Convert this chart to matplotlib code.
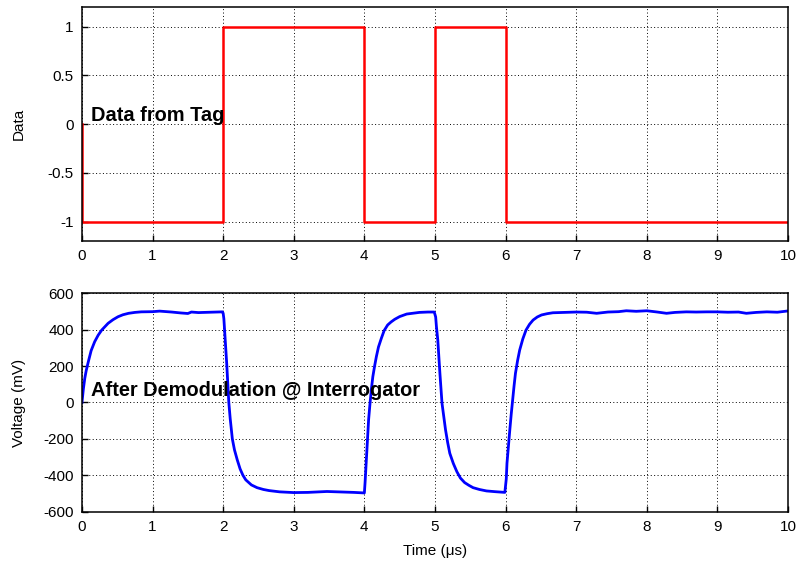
import matplotlib
matplotlib.use("Agg")
import matplotlib.pyplot as plt
from matplotlib.ticker import MultipleLocator

plt.rcParams["font.family"] = ["Liberation Sans", "DejaVu Sans"]
plt.rcParams["axes.unicode_minus"] = False

# tag bit stream: switching instants (us) and level after each instant
bit_t = [0, 0, 2, 2, 4, 4, 5, 5, 6, 6, 10]
bit_level = [0, -1, -1, 1, 1, -1, -1, 1, 1, -1, -1]

# demodulated voltage at the interrogator
time_us = [0.00, 0.02, 0.04, 0.06, 0.09, 0.13, 0.18, 0.23, 0.28, 0.37,
           0.44, 0.51, 0.58, 0.66, 0.75, 0.84, 1.00, 1.10, 1.27, 1.40,
           1.50, 1.55, 1.65, 1.80, 1.90, 1.99,
           2.00, 2.01, 2.02, 2.03, 2.05, 2.06, 2.08, 2.10, 2.13, 2.16,
           2.20, 2.24, 2.28, 2.32, 2.40, 2.48, 2.57, 2.65, 2.80, 3.00,
           3.20, 3.47, 3.70, 3.85, 4.00,
           4.01, 4.02, 4.045, 4.06, 4.08, 4.10, 4.12, 4.145, 4.17, 4.20,
           4.24, 4.28, 4.33, 4.38, 4.43, 4.50, 4.60, 4.68, 4.78, 4.90,
           4.99,
           5.01, 5.02, 5.04, 5.055, 5.07, 5.085, 5.10, 5.125, 5.15, 5.18,
           5.21, 5.26, 5.31, 5.36, 5.42, 5.48, 5.54, 5.63, 5.73, 5.85,
           5.99,
           6.01, 6.02, 6.04, 6.06, 6.08, 6.10, 6.12, 6.14, 6.17, 6.20,
           6.245, 6.29, 6.34, 6.39, 6.45, 6.51, 6.59, 6.67, 6.85,
           7.00, 7.15, 7.29, 7.45, 7.60, 7.71, 7.85, 8.00, 8.15, 8.28,
           8.40, 8.56, 8.70, 8.85, 8.99, 9.15, 9.30, 9.41, 9.55, 9.70,
           9.85, 10.00]
volt_mv = [0, 75, 133, 175, 224, 285, 334, 370, 398, 435,
           455, 471, 482, 490, 495, 498, 499, 502, 497, 492,
           489, 497, 494, 496, 497, 498,
           490, 460, 400, 340, 215, 140, 0, -90, -200, -260,
           -316, -365, -400, -425, -453, -468, -478, -484, -491, -495,
           -494, -489, -492, -494, -497,
           -440, -371, -188, -95, -5, 75, 142, 200, 252, 305,
           352, 395, 426, 443, 457, 472, 486, 490, 495, 497,
           497,
           470, 420, 343, 250, 160, 75, -5, -80, -151, -220,
           -279, -335, -380, -415, -440, -455, -468, -478, -486, -490,
           -494,
           -420, -334, -240, -151, -65, 14, 90, 160, 230, 288,
           350, 398, 430, 453, 470, 481, 488, 493, 495,
           497, 496, 490, 497, 499, 504, 501, 504, 497, 490,
           495, 498, 497, 498, 498, 496, 497, 490, 495, 498,
           496, 503]

fig = plt.figure(figsize=(8.02, 5.61), dpi=100)
ax1 = fig.add_axes([0.1022, 0.5704, 0.8803, 0.4166])
ax2 = fig.add_axes([0.1022, 0.0879, 0.8803, 0.3893])

for ax in (ax1, ax2):
    ax.set_xlim(0, 10)
    ax.xaxis.set_major_locator(MultipleLocator(1))
    ax.grid(True, linestyle=(0, (1, 2.5)), color="black", linewidth=0.7)
    ax.tick_params(direction="in", length=4.5, width=1, labelsize=11,
                   top=False, right=False, pad=6)
    for s in ax.spines.values():
        s.set_linewidth(1.1)
    ax.set_axisbelow(True)

# top: data bits from tag
ax1.plot(bit_t, bit_level, color="#ff0000", linewidth=1.8)
ax1.set_ylim(-1.2, 1.2)
ax1.set_yticks([-1, -0.5, 0, 0.5, 1])
ax1.set_yticklabels(["-1", "-0.5", "0", "0.5", "1"])
ax1.set_ylabel("Data", fontsize=11, labelpad=16)
ax1.text(0.13, 0.03, "Data from Tag", fontsize=14.4, fontweight="bold",
         ha="left", va="baseline")

# bottom: demodulated signal
ax2.plot(time_us, volt_mv, color="#0000ff", linewidth=2.0)
ax2.set_ylim(-600, 600)
ax2.yaxis.set_major_locator(MultipleLocator(200))
ax2.set_ylabel("Voltage (mV)", fontsize=11, labelpad=12)
ax2.set_xlabel("Time (μs)", fontsize=11, labelpad=7)
ax2.text(0.13, 35, "After Demodulation @ Interrogator", fontsize=14.4,
         fontweight="bold", ha="left", va="baseline")

fig.savefig("out.png", dpi=100)
